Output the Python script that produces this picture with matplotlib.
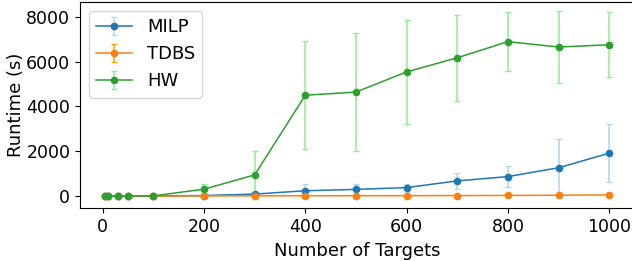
import matplotlib
matplotlib.use("Agg")
import matplotlib.pyplot as plt

targets = [5, 10, 30, 50, 100, 200, 300, 400, 500, 600, 700, 800, 900, 1000]

milp_mean = [0, 0, 0, 0, 5, 25, 90, 240, 300, 380, 680, 870, 1265, 1915]
milp_std = [0, 0, 0, 0, 5, 20, 60, 280, 220, 180, 360, 470, 1300, 1290]

tdbs_mean = [0, 0, 0, 0, 2, 10, 12, 15, 18, 20, 25, 30, 40, 55]
tdbs_std = [0, 0, 0, 0, 1, 3, 4, 5, 6, 6, 8, 9, 12, 15]

hw_mean = [0, 0, 0, 0, 10, 310, 945, 4500, 4640, 5540, 6170, 6890, 6650, 6750]
hw_std = [0, 0, 0, 0, 10, 250, 1070, 2420, 2620, 2310, 1930, 1310, 1590, 1450]

series = [
    ("MILP", milp_mean, milp_std, "tab:blue", "lightblue"),
    ("TDBS", tdbs_mean, tdbs_std, "tab:orange", "orange"),
    ("HW", hw_mean, hw_std, "tab:green", "lightgreen"),
]

plt.rcParams["font.size"] = 12.5

fig = plt.figure(figsize=(6.32, 2.61), dpi=100)
ax = fig.add_axes([80 / 632, 52.7 / 261, 554.4 / 632, 206.3 / 261])

for label, mean, std, color, ecolor in series:
    ax.errorbar(targets, mean, yerr=std, label=label, color=color,
                ecolor=ecolor, marker="o", markersize=4.5, linewidth=1.1,
                capsize=2.5)

ax.set_xlabel("Number of Targets", fontsize=13)
ax.set_ylabel("Runtime (s)", fontsize=13, labelpad=1)
ax.set_xticks([0, 200, 400, 600, 800, 1000])
ax.set_yticks([0, 2000, 4000, 6000, 8000])
ax.legend(loc="upper left", fontsize=13)

fig.savefig("out.png", dpi=100)
